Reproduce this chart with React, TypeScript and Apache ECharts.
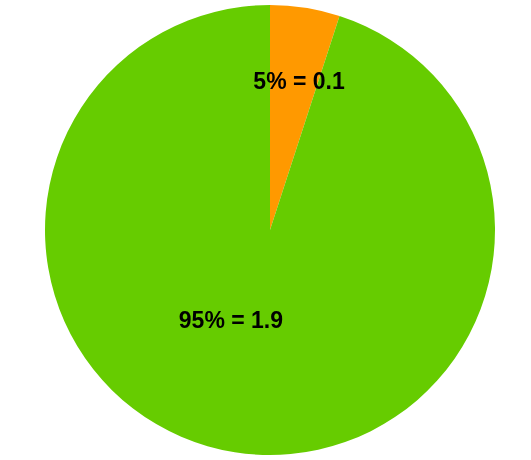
import React, { useEffect, useRef } from "react";
import * as echarts from "echarts";

const categories = ["A", "B"];
const values = [0.1, 1.9];
const percents = ["5%", "95%"];
const colors = ["#FF9900", "#66CC00"];
const labelOffsets = [
  [11, -35],
  [-21, -24],
];

export default function App() {
  const ref = useRef<HTMLDivElement>(null);
  useEffect(() => {
    const chart = echarts.init(ref.current!, undefined, { renderer: "svg" });
    chart.setOption({
      animation: false,
      series: [
        {
          type: "pie",
          center: [270, 230],
          radius: 225,
          startAngle: 90,
          clockwise: true,
          label: {
            show: true,
            position: "inside",
            color: "#000",
            fontFamily: "Arial, 'Liberation Sans', sans-serif",
            fontWeight: "bold",
            fontSize: 23,
            formatter: (p: any) => `${percents[p.dataIndex]} = ${values[p.dataIndex]}`,
          },
          labelLine: { show: false },
          labelLayout: (p: any) => ({
            dx: labelOffsets[p.dataIndex][0],
            dy: labelOffsets[p.dataIndex][1],
          }),
          emphasis: { disabled: true },
          data: categories.map((c, i) => ({
            name: c,
            value: values[i],
            itemStyle: { color: colors[i] },
          })),
        },
      ],
    });
    return () => chart.dispose();
  }, []);
  return (
    <div
      ref={ref}
      style={{ position: "fixed", left: 0, top: 0, width: 531, height: 460 }}
    />
  );
}
